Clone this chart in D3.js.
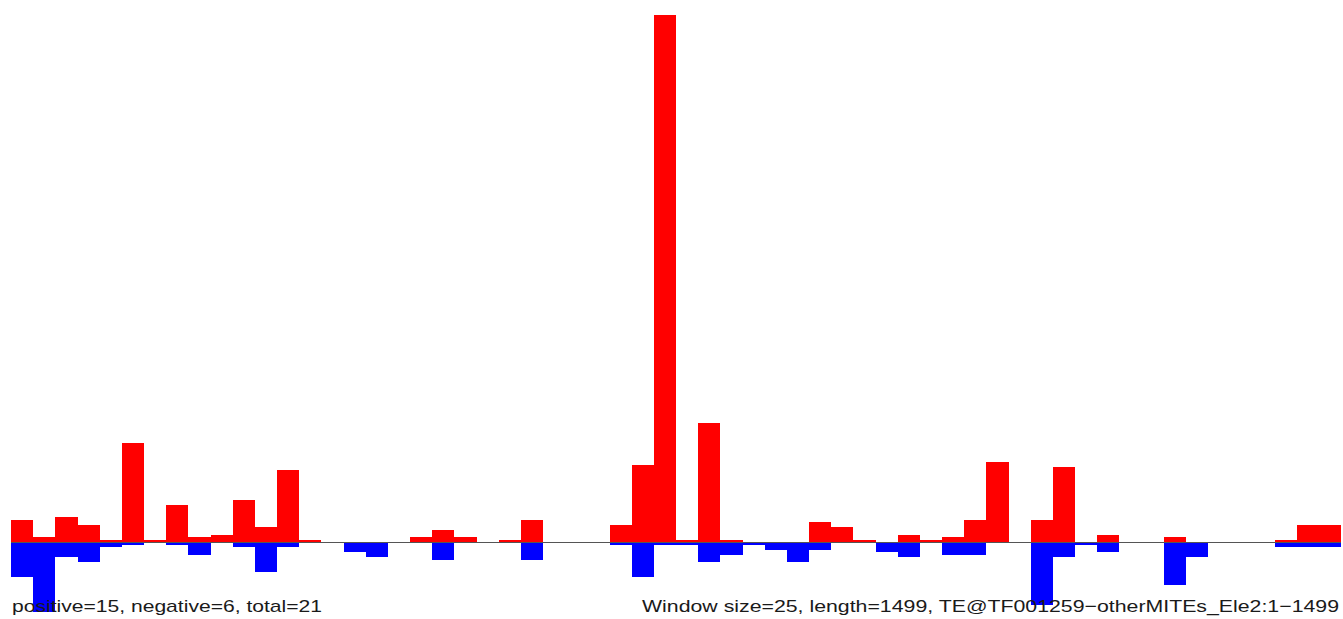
<!DOCTYPE html>
<html>
<head>
<meta charset="utf-8">
<script src="https://cdn.jsdelivr.net/npm/d3@7"></script>
<style>
  html, body { margin: 0; padding: 0; background: #fff; }
  svg { display: block; }
</style>
</head>
<body>
<svg id="chart" width="1343" height="619"></svg>
<script>
// Window index (window size 25 over length 1499 -> 60 windows)
const windows = d3.range(60);

// Positive-strand signal per window
const positive = [
  8.8, 2, 10, 6.8, 0.8, 39.6, 0.8, 14.8, 2, 2.8,
  16.8, 6, 28.8, 0.8, 0, 0, 0, 0, 2, 4.8,
  2, 0, 0.8, 8.8, 0, 0, 0, 6.8, 30.8, 210.8,
  0.8, 47.6, 0.8, 0, 0, 0, 8, 6, 0.8, 0,
  2.8, 0.8, 2, 8.8, 32, 0, 8.8, 30, 0, 2.8,
  0, 0, 2, 0, 0, 0, 0, 0.8, 6.8, 6.8
];

// Negative-strand signal per window (drawn below the axis)
const negative = [
  13.9, 28, 5.9, 7.9, 1.9, 1.2, 0, 1.2, 5.2, 0,
  1.9, 11.9, 1.9, 0, 0, 3.9, 5.9, 0, 0, 7.2,
  0, 0, 0, 7.2, 0, 0, 0, 1.2, 13.9, 1.2,
  1.2, 7.9, 5.2, 1.2, 3.2, 7.9, 3.2, 0, 0, 3.9,
  5.9, 0, 5.2, 5.2, 0, 0, 25.2, 5.9, 1.2, 3.9,
  0, 0, 17.2, 5.9, 0, 0, 0, 1.9, 1.9, 1.9
];

const leftLabel = "positive=15, negative=6, total=21";
const rightLabel = "Window size=25, length=1499, TE@TF001259\u2212otherMITEs_Ele2:1\u22121499";

const svg = d3.select("#chart");

const x = d3.scaleBand().domain(windows).range([11, 1341]).padding(0);
const y = d3.scaleLinear()
  .domain([-d3.max(negative), d3.max(positive)])
  .range([612, 15]);

const g = svg.append("g").attr("shape-rendering", "crispEdges");

g.selectAll("rect.pos")
  .data(windows.filter(i => positive[i] > 0))
  .join("rect")
  .attr("class", "pos")
  .attr("x", i => x(i))
  .attr("width", x.bandwidth())
  .attr("y", i => y(positive[i]))
  .attr("height", i => y(0) - y(positive[i]))
  .attr("fill", "#ff0000");

g.selectAll("rect.neg")
  .data(windows.filter(i => negative[i] > 0))
  .join("rect")
  .attr("class", "neg")
  .attr("x", i => x(i))
  .attr("width", x.bandwidth())
  .attr("y", y(0))
  .attr("height", i => y(-negative[i]) - y(0))
  .attr("fill", "#0000ff");

// Zero line
svg.append("line")
  .attr("x1", x.range()[0])
  .attr("x2", x.range()[1])
  .attr("y1", Math.round(y(0)) + 0.5)
  .attr("y2", Math.round(y(0)) + 0.5)
  .attr("stroke", "#555555")
  .attr("stroke-width", 1.2);

// Labels
svg.append("text")
  .attr("x", 12)
  .attr("y", 611.5)
  .attr("font-family", "Liberation Sans, Arial, sans-serif")
  .attr("font-size", 17)
  .attr("fill", "#1a1a1a")
  .attr("textLength", 310)
  .attr("lengthAdjust", "spacingAndGlyphs")
  .text(leftLabel);

svg.append("text")
  .attr("x", 1339)
  .attr("y", 611.5)
  .attr("text-anchor", "end")
  .attr("font-family", "Liberation Sans, Arial, sans-serif")
  .attr("font-size", 17)
  .attr("fill", "#1a1a1a")
  .attr("textLength", 697)
  .attr("lengthAdjust", "spacingAndGlyphs")
  .text(rightLabel);
</script>
</body>
</html>
